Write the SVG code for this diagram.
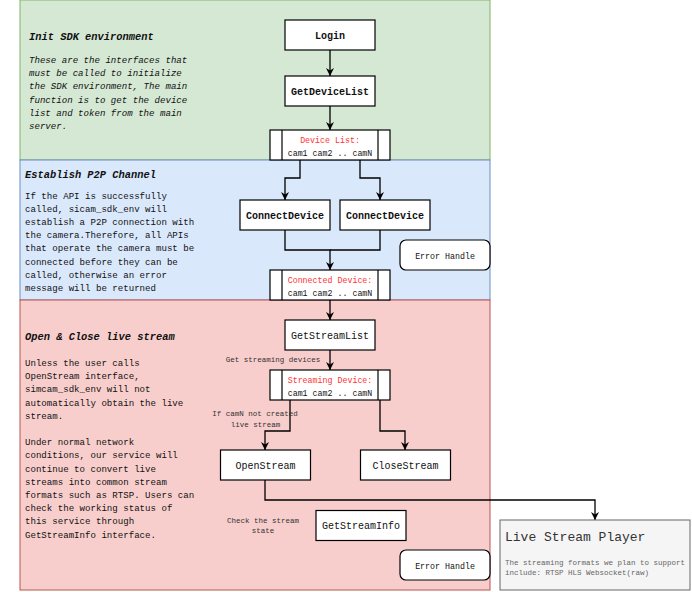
<svg xmlns="http://www.w3.org/2000/svg" width="692" height="592" viewBox="0 0 692 592">
<defs>
<marker id="arr" viewBox="0 0 8 8" markerWidth="8" markerHeight="8" refX="8" refY="4" orient="auto" markerUnits="userSpaceOnUse">
<path d="M0,0 L8,4 L0,8 L2.5,4 Z" fill="#000"/>
</marker>
<style>
text{font-family:"Liberation Mono","DejaVu Sans Mono",monospace;fill:#111}
.title{font-size:10.4px;font-style:italic;font-weight:bold}
.body{font-size:9.1px}
.it{font-style:italic}
.node rect{fill:#fff;stroke:#000;stroke-width:1.2}
.node line{stroke:#000;stroke-width:1.2}
.lbl{font-size:10px;text-anchor:middle}
.b{font-weight:bold}
.small{font-size:8.3px;text-anchor:middle}
.red{fill:#ff3333}
.tiny{font-size:7.5px;text-anchor:middle;fill:#333}
.conn path{fill:none;stroke:#000;stroke-width:1.3}
</style>
</defs>

<g id="panel-init">
<rect x="20" y="0" width="470" height="160" fill="#d5e8d4" stroke="#82b366"/>
<text class="title" x="29" y="40">Init SDK environment</text>
<text class="body it" x="29" y="63">These are the interfaces that</text>
<text class="body it" x="29" y="76.2">must be called to initialize</text>
<text class="body it" x="29" y="89.4">the SDK environment, The main</text>
<text class="body it" x="29" y="102.6">function is to get the device</text>
<text class="body it" x="29" y="115.8">list and token from the main</text>
<text class="body it" x="29" y="129">server.</text>
</g>

<g id="panel-p2p">
<rect x="20" y="160" width="470" height="140" fill="#dae8fc" stroke="#6c8ebf"/>
<text class="title" x="25" y="178">Establish P2P Channel</text>
<text class="body" x="25" y="198.5">If the API is successfully</text>
<text class="body" x="25" y="211.7">called, sicam_sdk_env will</text>
<text class="body" x="25" y="224.9">establish a P2P connection with</text>
<text class="body" x="25" y="238.1">the camera.Therefore, all APIs</text>
<text class="body" x="25" y="251.3">that operate the camera must be</text>
<text class="body" x="25" y="264.5">connected before they can be</text>
<text class="body" x="25" y="277.7">called, otherwise an error</text>
<text class="body" x="25" y="290.9">message will be returned</text>
</g>

<g id="panel-stream">
<rect x="20" y="300" width="470" height="290" fill="#f8cecc" stroke="#b85450"/>
<text class="title" x="25" y="340">Open &amp; Close live stream</text>
<text class="body" x="25" y="366">Unless the user calls</text>
<text class="body" x="25" y="379.2">OpenStream interface,</text>
<text class="body" x="25" y="392.4">simcam_sdk_env will not</text>
<text class="body" x="25" y="405.6">automatically obtain the live</text>
<text class="body" x="25" y="418.8">stream.</text>
<text class="body" x="25" y="445.2">Under normal network</text>
<text class="body" x="25" y="458.4">conditions, our service will</text>
<text class="body" x="25" y="471.6">continue to convert live</text>
<text class="body" x="25" y="484.8">streams into common stream</text>
<text class="body" x="25" y="498">formats such as RTSP. Users can</text>
<text class="body" x="25" y="511.2">check the working status of</text>
<text class="body" x="25" y="524.4">this service through</text>
<text class="body" x="25" y="537.6">GetStreamInfo interface.</text>
</g>

<g class="conn" id="connectors">
<path d="M330,50 V76" marker-end="url(#arr)"/>
<path d="M330,106 V130" marker-end="url(#arr)"/>
<path d="M300,160 V178 H285 V200" marker-end="url(#arr)"/>
<path d="M360,160 V178 H380 V200" marker-end="url(#arr)"/>
<path d="M285,230 V250 H330 V270" marker-end="url(#arr)"/>
<path d="M380,230 V250 H330"/>
<path d="M330,300 V320" marker-end="url(#arr)"/>
<path d="M330,350 V370" marker-end="url(#arr)"/>
<path d="M290,400 V431 H265 V450" marker-end="url(#arr)"/>
<path d="M380,400 V431 H405 V450" marker-end="url(#arr)"/>
<path d="M265,480 V500 H595 V520" marker-end="url(#arr)"/>
<text class="tiny" x="273" y="361.5">Get streaming devices</text>
<text class="tiny" x="255" y="415.5">If camN not created</text>
<text class="tiny" x="255.5" y="427">live stream</text>
</g>

<g class="node" id="login">
<rect x="285" y="20" width="90" height="30"/>
<text class="lbl b" x="330" y="38.5">Login</text>
</g>
<g class="node" id="getdevicelist">
<rect x="285" y="76" width="90" height="30"/>
<text class="lbl b" x="330" y="94.5">GetDeviceList</text>
</g>
<g class="node" id="devicelist">
<rect x="270" y="130" width="120" height="30"/>
<line x1="282" y1="130" x2="282" y2="160"/>
<line x1="378" y1="130" x2="378" y2="160"/>
<text class="small red" x="330" y="143">Device List:</text>
<text class="small" x="330" y="156">cam1 cam2 .. camN</text>
</g>
<g class="node" id="connect1">
<rect x="240" y="200" width="90" height="30"/>
<text class="lbl b" x="285" y="218.5">ConnectDevice</text>
</g>
<g class="node" id="connect2">
<rect x="340" y="200" width="90" height="30"/>
<text class="lbl b" x="385" y="218.5">ConnectDevice</text>
</g>
<g class="node" id="error1">
<rect x="400" y="240" width="90" height="30" rx="6" ry="6"/>
<text class="small" x="445" y="258.5">Error Handle</text>
</g>
<g class="node" id="connected">
<rect x="270" y="270" width="120" height="30"/>
<line x1="282" y1="270" x2="282" y2="300"/>
<line x1="378" y1="270" x2="378" y2="300"/>
<text class="small red" x="330" y="283">Connected Device:</text>
<text class="small" x="330" y="295.5">cam1 cam2 .. camN</text>
</g>
<g class="node" id="getstreamlist">
<rect x="285" y="320" width="90" height="30"/>
<text class="lbl" x="330" y="338.5">GetStreamList</text>
</g>
<g class="node" id="streaming">
<rect x="270" y="370" width="120" height="30"/>
<line x1="282" y1="370" x2="282" y2="400"/>
<line x1="378" y1="370" x2="378" y2="400"/>
<text class="small red" x="330" y="383">Streaming Device:</text>
<text class="small" x="330" y="395.5">cam1 cam2 .. camN</text>
</g>
<g class="node" id="openstream">
<rect x="220.5" y="450" width="90" height="30"/>
<text class="lbl" x="265.5" y="468.5">OpenStream</text>
</g>
<g class="node" id="closestream">
<rect x="360.5" y="450" width="90" height="30"/>
<text class="lbl" x="405.5" y="468.5">CloseStream</text>
</g>
<g class="node" id="getstreaminfo">
<text class="tiny" x="263" y="522.5">Check the stream</text>
<text class="tiny" x="263" y="533">state</text>
<rect x="316" y="510.5" width="90" height="30"/>
<text class="lbl" x="361" y="529">GetStreamInfo</text>
</g>
<g class="node" id="error2">
<rect x="400" y="550" width="90" height="30" rx="6" ry="6"/>
<text class="small" x="445" y="568.5">Error Handle</text>
</g>
<g id="player">
<rect x="500" y="520" width="190" height="70" fill="#f5f5f5" stroke="#666"/>
<text x="505" y="541" style="font-size:13px;fill:#333">Live Stream Player</text>
<text x="505" y="564.5" style="font-size:7.5px;fill:#666">The streaming formats we plan to support</text>
<text x="505" y="574.5" style="font-size:7.5px;fill:#666">include: RTSP HLS Websocket(raw)</text>
</g>
</svg>
